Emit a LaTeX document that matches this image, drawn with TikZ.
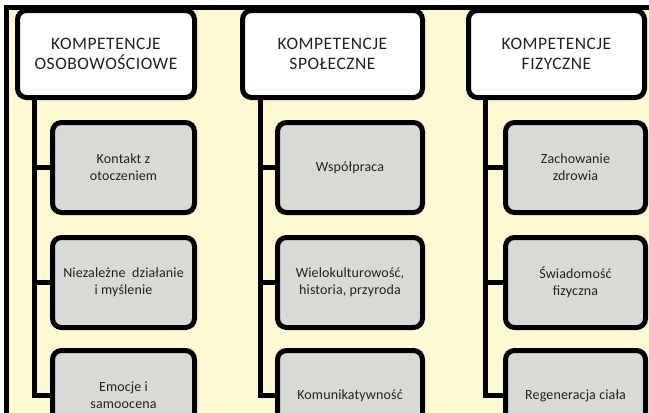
\documentclass[tikz,border=0pt]{standalone}
\usepackage{fontspec}
\setmainfont{Carlito}
\newfontfamily\hdrfont[LetterSpace=3]{Carlito}
\newfontfamily\kidfont[LetterSpace=1]{Carlito}
\definecolor{cream}{HTML}{FFF9D3}
\definecolor{boxgray}{HTML}{D9D9D6}
\definecolor{txt}{HTML}{222222}
\tikzset{
  hdr/.style={draw=black, line width=5pt, rounded corners=9pt, fill=white,
    minimum height=87pt, align=center, text=txt,
    font=\hdrfont\fontsize{17.5}{20}\selectfont, inner sep=0pt},
  kid/.style={draw=black, line width=5pt, rounded corners=9pt, fill=boxgray,
    minimum height=90pt, align=center, text=txt,
    font=\kidfont\fontsize{14}{17}\selectfont, inner sep=0pt},
  conn/.style={draw=black, line width=5pt}
}
\begin{document}
\begin{tikzpicture}[x=1pt,y=-1pt]
\useasboundingbox (0,0) rectangle (649,413);
\clip (0,0) rectangle (649,413);
% frame
\fill[cream] (6,7.5) rectangle (700,500);
\draw[line width=5pt] (6,500) -- (6,7.5) -- (700,7.5);
% headers
\node[hdr, minimum width=177pt] (h1) at (106,54) {KOMPETENCJE\\OSOBOWOŚCIOWE};
\node[hdr, minimum width=180pt] (h2) at (332.5,54) {KOMPETENCJE\\SPOŁECZNE};
\node[hdr, minimum width=176pt] (h3) at (556.5,54) {KOMPETENCJE\\FIZYCZNE};
% trunk coordinates
\coordinate (v1) at (34,97.5);
\coordinate (v2) at (260,97.5);
\coordinate (v3) at (485,97.5);
% children
\node[kid, minimum width=142pt] (k11) at (123.5,167.5) {Kontakt z\\otoczeniem};
\node[kid, minimum width=142pt] (k12) at (123.5,282.5) {Niezależne\ \ działanie\\i myślenie};
\node[kid, minimum width=142pt] (k13) at (123.5,395.5) {Emocje i\\samoocena};
\node[kid, minimum width=145pt] (k21) at (350,167.5) {Współpraca};
\node[kid, minimum width=145pt] (k22) at (350,282.5) {Wielokulturowość,\\historia, przyroda};
\node[kid, minimum width=145pt] (k23) at (350,395.5) {Komunikatywność};
\node[kid, minimum width=140pt] (k31) at (575.5,167.5) {Zachowanie\\zdrowia};
\node[kid, minimum width=140pt] (k32) at (575.5,282.5) {Świadomość\\fizyczna};
\node[kid, minimum width=140pt] (k33) at (575.5,395.5) {Regeneracja ciała};
% connectors
\draw[conn] (v1) |- (k11.west);
\draw[conn] (v1) |- (k12.west);
\draw[conn] (v1) |- (k13.west);
\draw[conn] (v2) |- (k21.west);
\draw[conn] (v2) |- (k22.west);
\draw[conn] (v2) |- (k23.west);
\draw[conn] (v3) |- (k31.west);
\draw[conn] (v3) |- (k32.west);
\draw[conn] (v3) |- (k33.west);
\end{tikzpicture}
\end{document}
